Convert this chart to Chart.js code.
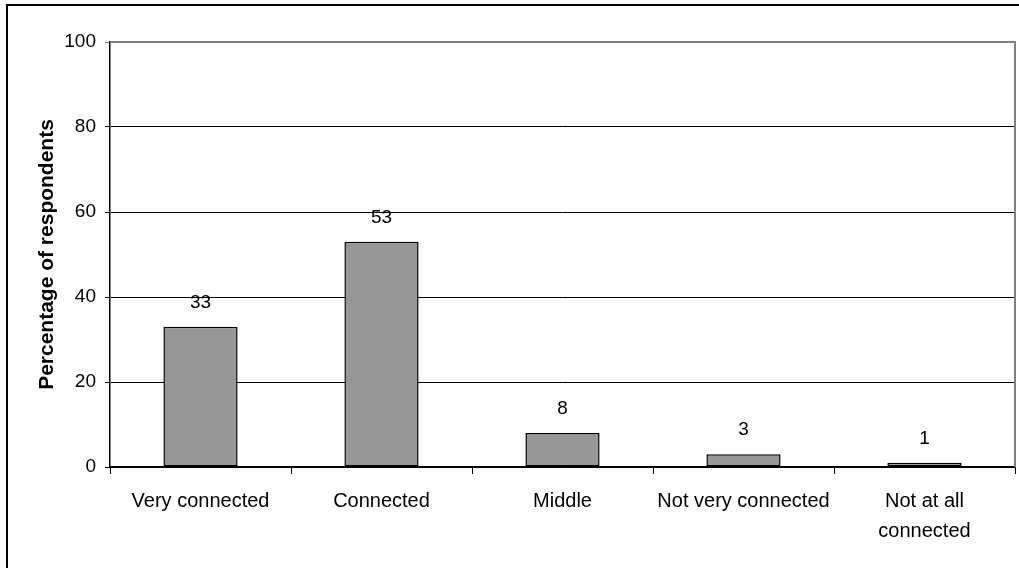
<!DOCTYPE html>
<html>
<head>
<meta charset="utf-8">
<script src="https://cdn.jsdelivr.net/npm/chart.js@4"></script>
<style>
  html, body { margin: 0; padding: 0; background: #fff; }
  #wrap { width: 1019px; height: 568px; position: relative; }
</style>
</head>
<body>
<div id="wrap"><canvas id="c" width="1019" height="568"></canvas></div>
<script>
// Survey answers: how connected respondents feel
const categories = ['Very connected', 'Connected', 'Middle', 'Not very connected', ['Not at all', 'connected']];
const percentages = [33, 53, 8, 3, 1];
const yTicks = [0, 20, 40, 60, 80, 100];

const FONT = '"Liberation Sans", Arial, sans-serif';

// Frame around the whole figure plus the grey plot-area edge on top and right
const framePlugin = {
  id: 'frame',
  beforeDraw(chart) {
    const ctx = chart.ctx;
    ctx.save();
    ctx.fillStyle = '#fff';
    ctx.fillRect(0, 0, chart.width, chart.height);
    ctx.strokeStyle = '#000';
    ctx.lineWidth = 2;
    ctx.strokeRect(7, 5, chart.width + 10, chart.height + 10);
    ctx.restore();
  },
  afterDatasetsDraw(chart) {
    const { ctx, chartArea: a } = chart;
    ctx.save();
    ctx.strokeStyle = '#808080';
    ctx.lineWidth = 2;
    ctx.beginPath();
    ctx.moveTo(a.left, a.top);
    ctx.lineTo(a.right, a.top);
    ctx.lineTo(a.right, a.bottom);
    ctx.stroke();
    ctx.restore();
  }
};

// Value printed above each bar
const valueLabels = {
  id: 'valueLabels',
  afterDatasetsDraw(chart) {
    const ctx = chart.ctx;
    const meta = chart.getDatasetMeta(0);
    ctx.save();
    ctx.fillStyle = '#000';
    ctx.font = '19px ' + FONT;
    ctx.textAlign = 'center';
    ctx.textBaseline = 'middle';
    meta.data.forEach((bar, i) => {
      ctx.fillText(String(percentages[i]), bar.x, bar.y - 24);
    });
    ctx.restore();
  }
};

new Chart(document.getElementById('c'), {
  type: 'bar',
  data: {
    labels: categories,
    datasets: [{
      data: percentages,
      backgroundColor: '#969696',
      borderColor: '#000',
      borderWidth: 1.5,
      borderSkipped: false,
      barPercentage: 0.41,
      categoryPercentage: 1
    }]
  },
  options: {
    responsive: false,
    animation: false,
    devicePixelRatio: 1,
    layout: { padding: { left: 0, top: 42, right: 4, bottom: 0 } },
    plugins: {
      legend: { display: false },
      tooltip: { enabled: false }
    },
    scales: {
      x: {
        offset: true,
        grid: {
          offset: true,
          drawOnChartArea: false,
          drawTicks: true,
          tickLength: 7,
          color: '#000',
          lineWidth: 1
        },
        border: { color: '#000', width: 1.5 },
        ticks: {
          color: '#000',
          font: { family: FONT, size: 20, lineHeight: 1.5 },
          padding: 12,
          maxRotation: 0,
          autoSkip: false
        },
        afterFit(scale) { scale.height = 101; }
      },
      y: {
        min: 0,
        max: 100,
        afterBuildTicks(scale) { scale.ticks = yTicks.map(v => ({ value: v })); },
        grid: {
          color: ctx => (ctx.tick && ctx.tick.value === 100) ? '#808080' : '#000',
          lineWidth: 1,
          tickLength: 5,
          drawTicks: true
        },
        border: { color: '#000', width: 1.5 },
        ticks: {
          color: '#000',
          font: { family: FONT, size: 19 },
          padding: 9
        },
        title: {
          display: true,
          text: 'Percentage of respondents',
          color: '#000',
          font: { family: FONT, size: 21, weight: 'bold' },
          padding: { top: 35, bottom: 0 }
        },
        afterFit(scale) { scale.width = 110; }
      }
    }
  },
  plugins: [framePlugin, valueLabels]
});
</script>
</body>
</html>
